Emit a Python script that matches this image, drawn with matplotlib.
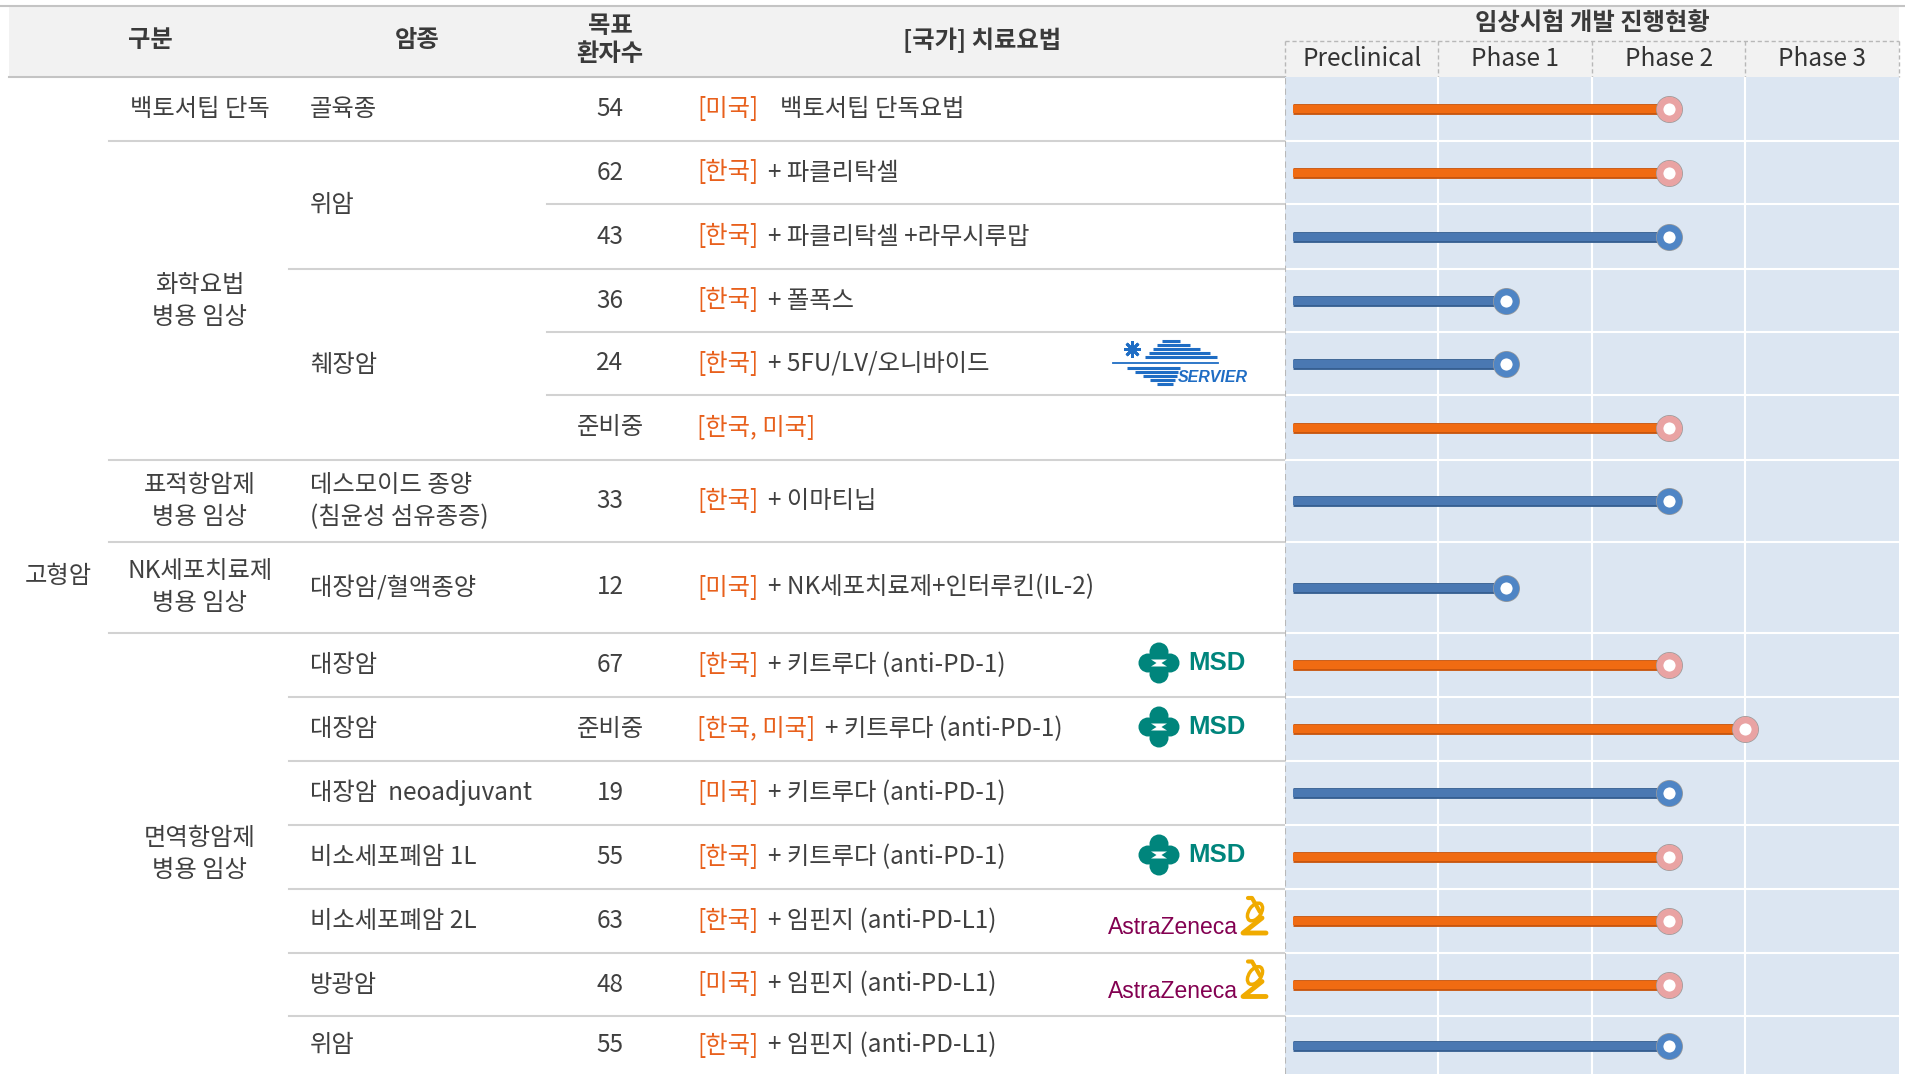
import matplotlib
matplotlib.use("Agg")
import matplotlib.pyplot as plt
import matplotlib.patheffects as pe
from matplotlib.patches import Rectangle, Circle, Polygon, Ellipse

plt.rcParams['font.family'] = ['Noto Sans CJK KR', 'DejaVu Sans']

# ---- 데이터 ----
phases = ["Preclinical", "Phase 1", "Phase 2", "Phase 3"]
group_name = "고형암"
categories = ["백토서팁 단독", "화학요법\n병용 임상", "표적항암제\n병용 임상",
              "NK세포치료제\n병용 임상", "면역항암제\n병용 임상"]
category_rows = [(0, 0), (1, 5), (6, 6), (7, 7), (8, 14)]
cancers = ["골육종", "위암", "췌장암", "데스모이드 종양\n(침윤성 섬유종증)", "대장암/혈액종양",
           "대장암", "대장암", "대장암  neoadjuvant", "비소세포폐암 1L", "비소세포폐암 2L",
           "방광암", "위암"]
cancer_rows = [(0, 0), (1, 2), (3, 5), (6, 6), (7, 7), (8, 8), (9, 9), (10, 10),
               (11, 11), (12, 12), (13, 13), (14, 14)]
patients = ["54", "62", "43", "36", "24", "준비중", "33", "12",
            "67", "준비중", "19", "55", "63", "48", "55"]
countries = ["[미국]", "[한국]", "[한국]", "[한국]", "[한국]", "[한국, 미국]", "[한국]", "[미국]",
             "[한국]", "[한국, 미국]", "[미국]", "[한국]", "[한국]", "[미국]", "[한국]"]
therapies = ["백토서팁 단독요법", "+ 파클리탁셀", "+ 파클리탁셀 +라무시루맙", "+ 폴폭스",
             "+ 5FU/LV/오니바이드", "", "+ 이마티닙", "+ NK세포치료제+인터루킨(IL-2)",
             "+ 키트루다 (anti-PD-1)", "+ 키트루다 (anti-PD-1)", "+ 키트루다 (anti-PD-1)",
             "+ 키트루다 (anti-PD-1)", "+ 임핀지 (anti-PD-L1)", "+ 임핀지 (anti-PD-L1)",
             "+ 임핀지 (anti-PD-L1)"]
partners = ["", "", "", "", "SERVIER", "", "", "", "MSD", "MSD", "", "MSD",
            "AstraZeneca", "AstraZeneca", ""]
progress_start = 0.05
progress = [2.5, 2.5, 2.5, 1.44, 1.44, 2.5, 2.5, 1.44, 2.5, 3.0, 2.5, 2.5, 2.5, 2.5, 2.5]
bar_kind = ["orange", "orange", "blue", "blue", "blue", "orange", "blue", "blue",
            "orange", "orange", "blue", "orange", "orange", "orange", "blue"]

# ---- 레이아웃 (픽셀) ----
W, H = 1906, 1074
row_edges = [77, 141, 204, 269, 332, 395, 460, 542, 633, 697, 761, 825, 889, 953, 1016, 1075]
sep_x = [109, 547, 289, 547, 547, 109, 109, 109, 289, 289, 289, 289, 289, 289]
px0, px1 = 1285, 1899
txt = "#404040"
ctry = "#e8601c"
fs = 17.5

styles = {
    "orange": dict(line="#f06b12", dark="#c8560e", ring="#e9a3a3"),
    "blue": dict(line="#4a78b2", dark="#365f92", ring="#4f85c5"),
}

fig = plt.figure(figsize=(W / 100, H / 100), dpi=100)
ax = fig.add_axes([0, 0, 1, 1])
ax.set_xlim(0, W)
ax.set_ylim(H, 0)
ax.set_axis_off()


def mid(r0, r1):
    return (row_edges[r0] + row_edges[r1 + 1]) / 2


# 헤더
ax.add_patch(Rectangle((9, 6), px1 - 9, 71, facecolor="#f2f2f2", edgecolor="none", zorder=0))
ax.plot([0, W], [6, 6], color="#c4c4c4", lw=1.5)
ax.plot([9, px0], [77, 77], color="#c4c4c4", lw=1.5)
ax.plot([px0, px1], [41, 41], color="#b8b8b8", lw=1, ls=(0, (3, 2)))
for k in range(5):
    xx = px0 + k * (px1 - px0) / 4
    ax.plot([xx, xx], [41, 77], color="#b8b8b8", lw=1, ls=(0, (3, 2)))

hd = dict(fontsize=fs, fontweight="bold", color="#3a3a3a", ha="center", va="center")
ax.text(150, 40, "구분", **hd)
ax.text(417, 40, "암종", **hd)
ax.text(610, 40, "목표\n환자수", linespacing=1.25, **hd)
ax.text(982, 40, "[국가] 치료요법", **hd)
ax.text((px0 + px1) / 2, 23, "임상시험 개발 진행현황", **hd)
for k, p in enumerate(phases):
    ax.text(px0 + (k + 0.5) * (px1 - px0) / 4, 59, p, fontsize=17.5, fontweight="medium",
            color="#333333", ha="center", va="center")

# 행 구분선
for i, x0 in enumerate(sep_x):
    ax.plot([x0, px0], [row_edges[i + 1]] * 2, color="#d2d2d2", lw=1.5)

# 본문 텍스트
body = dict(fontsize=fs, color=txt, va="center")
ax.text(58, mid(0, 14), group_name, ha="center", **body)
for c, (r0, r1) in zip(categories, category_rows):
    ax.text(200, mid(r0, r1), c, ha="center", linespacing=1.3, **body)
for c, (r0, r1) in zip(cancers, cancer_rows):
    ax.text(310, mid(r0, r1), c, ha="left", linespacing=1.3, multialignment="left", **body)
for i in range(len(patients)):
    y = mid(i, i)
    ax.text(610, y, patients[i], ha="center", **body)
    t = ax.text(697, y, countries[i], ha="left", fontsize=fs, color=ctry, va="center")
    if therapies[i]:
        gap = 7 if therapies[i].startswith("+") else 16
        ax.annotate(therapies[i], xy=(1, 0.5), xycoords=t, xytext=(gap, 0),
                    textcoords="offset points", ha="left", va="center",
                    fontsize=fs, color=txt)


# 파트너 로고
def logo_msd(y):
    teal = "#00857c"
    cx, cy = 1159, y - 2
    for dx, dy in [(-11, 0), (11, 0), (0, -11), (0, 11)]:
        ax.add_patch(Circle((cx + dx, cy + dy), 9.5, color=teal, lw=0, zorder=5))
    ax.add_patch(Polygon([(cx - 8, cy - 3.5), (cx + 8, cy - 3.5), (cx + 2.5, cy),
                          (cx + 8, cy + 3.5), (cx - 8, cy + 3.5), (cx - 2.5, cy)],
                         color="white", lw=0, zorder=6))
    ax.text(1188, cy, "MSD", fontsize=18.5, fontweight="bold", color=teal,
            family="Liberation Sans", ha="left", va="center", zorder=6)


def logo_servier(y):
    blue = "#1f6dc4"
    ax.plot(1132, y - 15, marker=(8, 2, 0), ms=12, mew=2, color=blue, zorder=6)
    upper = [(-23, 1162, 1180), (-19, 1157, 1190), (-15, 1153, 1200),
             (-11, 1149, 1210), (-7, 1145, 1217)]
    lower = [(4, 1127, 1180), (8, 1135, 1178), (12, 1143, 1177),
             (16, 1150, 1175), (20, 1157, 1173)]
    for dy, x0, x1 in upper + lower:
        ax.plot([x0, x1], [y + dy, y + dy], color=blue, lw=2.2, solid_capstyle="butt",
                zorder=6)
    ax.plot([1113, 1218], [y - 1, y - 1], color=blue, lw=1.3, zorder=6)
    ax.text(1178, y + 14, "SERVIER", fontsize=11.5, fontweight="bold", style="italic",
            color=blue, family="Liberation Sans", ha="left", va="center", zorder=6)


def logo_az(y):
    gold = "#f0ab00"
    ax.text(1108, y + 7, "AstraZeneca", fontsize=16.5, color="#830051",
            family="Liberation Sans", ha="left", va="center", zorder=6)
    ax.plot([1248, 1252, 1260], [y - 23, y - 23, y - 9], color=gold, lw=3,
            solid_capstyle="round", zorder=6)
    ax.add_patch(Ellipse((1255, y - 9), 20, 12, angle=-55, fill=False,
                         edgecolor=gold, lw=2.5, zorder=6))
    ax.plot([1262, 1243, 1266], [y - 3, y + 12, y + 12], color=gold, lw=3.5,
            solid_joinstyle="round", solid_capstyle="round", zorder=6)


for i, p in enumerate(partners):
    y = mid(i, i)
    if p == "MSD":
        logo_msd(y)
    elif p == "SERVIER":
        logo_servier(y)
    elif p == "AstraZeneca":
        logo_az(y)

# ---- 임상 진행 차트 ----
ax2 = fig.add_axes([px0 / W, 0, (px1 - px0) / W, 1 - 77 / H])
ax2.set_xlim(0, 4)
ax2.set_ylim(H, 77)
ax2.set_facecolor("#dce6f2")
for s in ax2.spines.values():
    s.set_visible(False)
ax2.set_xticks([])
ax2.set_yticks([])
for k in (1, 2, 3):
    ax2.axvline(k, color="white", lw=1.5, zorder=1)
for e in row_edges[1:-1]:
    ax2.axhline(e, color="white", lw=1.5, zorder=1)
ax2.axvline(0, color="#b8b8b8", lw=1.5, ls=(0, (3, 2)), zorder=2)

for i, v in enumerate(progress):
    st = styles[bar_kind[i]]
    y = mid(i, i)
    ax2.plot([progress_start, v], [y, y], color=st["line"], lw=5.8, solid_capstyle="butt",
             path_effects=[pe.Stroke(linewidth=7.8, foreground=st["dark"]), pe.Normal()],
             zorder=3)
    ax2.plot(v, y, "o", ms=18.4, mfc="white", mec="#9a9a9a", mew=1, zorder=4)
    ax2.plot(v, y, "o", ms=13.6, mfc="white", mec=st["ring"], mew=4.8, zorder=5)

fig.savefig("out.png", dpi=100)
